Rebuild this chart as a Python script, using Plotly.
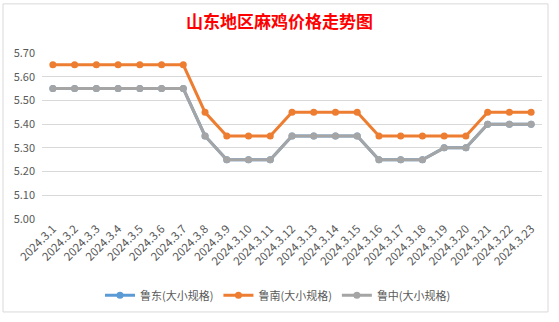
import plotly.graph_objects as go

dates = ["2024.3.1", "2024.3.2", "2024.3.3", "2024.3.4", "2024.3.5", "2024.3.6",
         "2024.3.7", "2024.3.8", "2024.3.9", "2024.3.10", "2024.3.11", "2024.3.12",
         "2024.3.13", "2024.3.14", "2024.3.15", "2024.3.16", "2024.3.17", "2024.3.18",
         "2024.3.19", "2024.3.20", "2024.3.21", "2024.3.22", "2024.3.23"]

ludong = [5.55, 5.55, 5.55, 5.55, 5.55, 5.55, 5.55, 5.35, 5.25, 5.25, 5.25, 5.35,
          5.35, 5.35, 5.35, 5.25, 5.25, 5.25, 5.30, 5.30, 5.40, 5.40, 5.40]
lunan = [5.65, 5.65, 5.65, 5.65, 5.65, 5.65, 5.65, 5.45, 5.35, 5.35, 5.35, 5.45,
         5.45, 5.45, 5.45, 5.35, 5.35, 5.35, 5.35, 5.35, 5.45, 5.45, 5.45]
luzhong = [5.55, 5.55, 5.55, 5.55, 5.55, 5.55, 5.55, 5.35, 5.25, 5.25, 5.25, 5.35,
           5.35, 5.35, 5.35, 5.25, 5.25, 5.25, 5.30, 5.30, 5.40, 5.40, 5.40]

y_ticks = [5.00, 5.10, 5.20, 5.30, 5.40, 5.50, 5.60, 5.70]

series = [
    ("鲁东(大小规格)", ludong, "#5B9BD5"),
    ("鲁南(大小规格)", lunan, "#ED7D31"),
    ("鲁中(大小规格)", luzhong, "#A5A5A5"),
]

font_family = "Noto Sans CJK SC, Noto Sans, sans-serif"

fig = go.Figure()
for name, vals, color in series:
    fig.add_trace(go.Scatter(
        x=dates, y=vals, name=name, mode="lines+markers",
        line=dict(color=color, width=3),
        marker=dict(color=color, size=7),
    ))

fig.update_layout(
    width=559, height=322,
    margin=dict(l=42, r=17, t=53, b=100),
    paper_bgcolor="white", plot_bgcolor="white",
    font=dict(family=font_family, color="#595959", size=11),
    title=dict(text="<b>山东地区麻鸡价格走势图</b>", x=0.5, xanchor="center",
               y=0.93, yanchor="middle",
               font=dict(family=font_family, size=17, color="#FF0000")),
    showlegend=True,
    legend=dict(orientation="h", x=0.472, xanchor="center", y=-0.46, yanchor="middle",
                font=dict(size=11, color="#595959"), itemwidth=30,
                tracegroupgap=0),
    xaxis=dict(type="category", tickangle=-45, tickfont=dict(size=11.5),
               showgrid=False, showline=False, ticks="", range=[-0.5, 22.5]),
    yaxis=dict(range=[5.0, 5.7], tickvals=y_ticks,
               ticktext=[f"{v:.2f}" for v in y_ticks],
               showgrid=True, gridcolor="#D9D9D9", gridwidth=1,
               zeroline=False, showline=False, ticks="",
               tickfont=dict(size=11), ticklabelstandoff=6),
    shapes=[dict(type="rect", xref="paper", yref="paper",
                 x0=-0.078, x1=1.012, y0=-0.56, y1=1.296,
                 line=dict(color="#D9D9D9", width=1), fillcolor="rgba(0,0,0,0)")],
)

fig.write_html("out.html")
